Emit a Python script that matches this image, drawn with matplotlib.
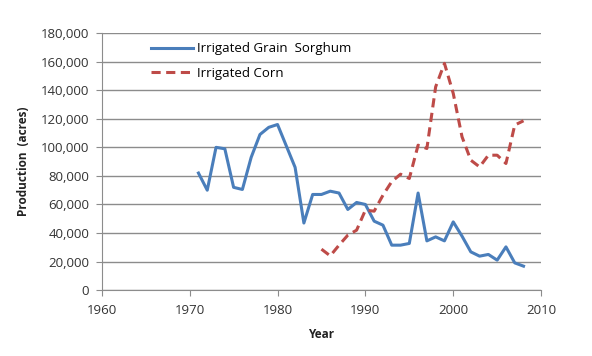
import numpy as np
import matplotlib.pyplot as plt

# data
sorghum_years = list(range(1971, 2009))
sorghum = [82000, 70000, 100000, 99000, 72000, 70500, 93000, 109000, 114000, 116000,
           101000, 86000, 47000, 67000, 67000, 69300, 68000, 56500, 61400, 60000,
           48300, 45500, 31500, 31500, 32700, 68000, 34500, 37300, 34500, 47800,
           37800, 26800, 23800, 25000, 21000, 30300, 19100, 16800]

corn_years = list(range(1985, 2009))
corn = [28700, 24000, 31500, 38500, 42000, 56000, 55300, 66500, 76000, 81200,
        78200, 101500, 99200, 142400, 158800, 137800, 107400, 91000, 86300, 94500,
        94500, 88700, 115600, 118600]

plt.rcParams['font.family'] = ['Open Sans', 'DejaVu Sans']

fig = plt.figure(figsize=(5.92, 3.56), dpi=100)
ax = fig.add_axes([0.172, 0.185, 0.742, 0.722])

ax.plot(sorghum_years, sorghum, color='#4a7ebb', linewidth=2.2, label='Irrigated Grain  Sorghum')
ax.plot(corn_years, corn, color='#be4b48', linewidth=2.2, linestyle=(0, (3, 1.8)), label='Irrigated Corn')

ax.set_xlim(1960, 2010)
ax.set_ylim(0, 180000)
ax.set_xticks(np.arange(1960, 2011, 10))
ax.set_yticks(np.arange(0, 180001, 20000))
ax.set_yticklabels([f'{v:,}' for v in range(0, 180001, 20000)])
ax.yaxis.grid(True, color='#8c8c8c', linewidth=1)
ax.set_axisbelow(True)

for s in ['top', 'right']:
    ax.spines[s].set_visible(False)
for s in ['left', 'bottom']:
    ax.spines[s].set_color('#8c8c8c')
ax.tick_params(colors='#8c8c8c', labelcolor='#333333', labelsize=9.5, length=4)
ax.tick_params(axis='y', pad=5)
ax.tick_params(axis='x', pad=6)

ax.set_xlabel('Year', fontsize=8.5, fontweight='bold', color='#222222', labelpad=8)
ax.set_ylabel('Production  (acres)', fontsize=8.5, fontweight='bold', color='#222222', labelpad=8)

ax.legend(loc='upper left', bbox_to_anchor=(0.085, 1.01), frameon=False, fontsize=9.5,
          handlelength=3.2, handletextpad=0.3, labelspacing=0.85)

fig.savefig('out.png', dpi=100)
